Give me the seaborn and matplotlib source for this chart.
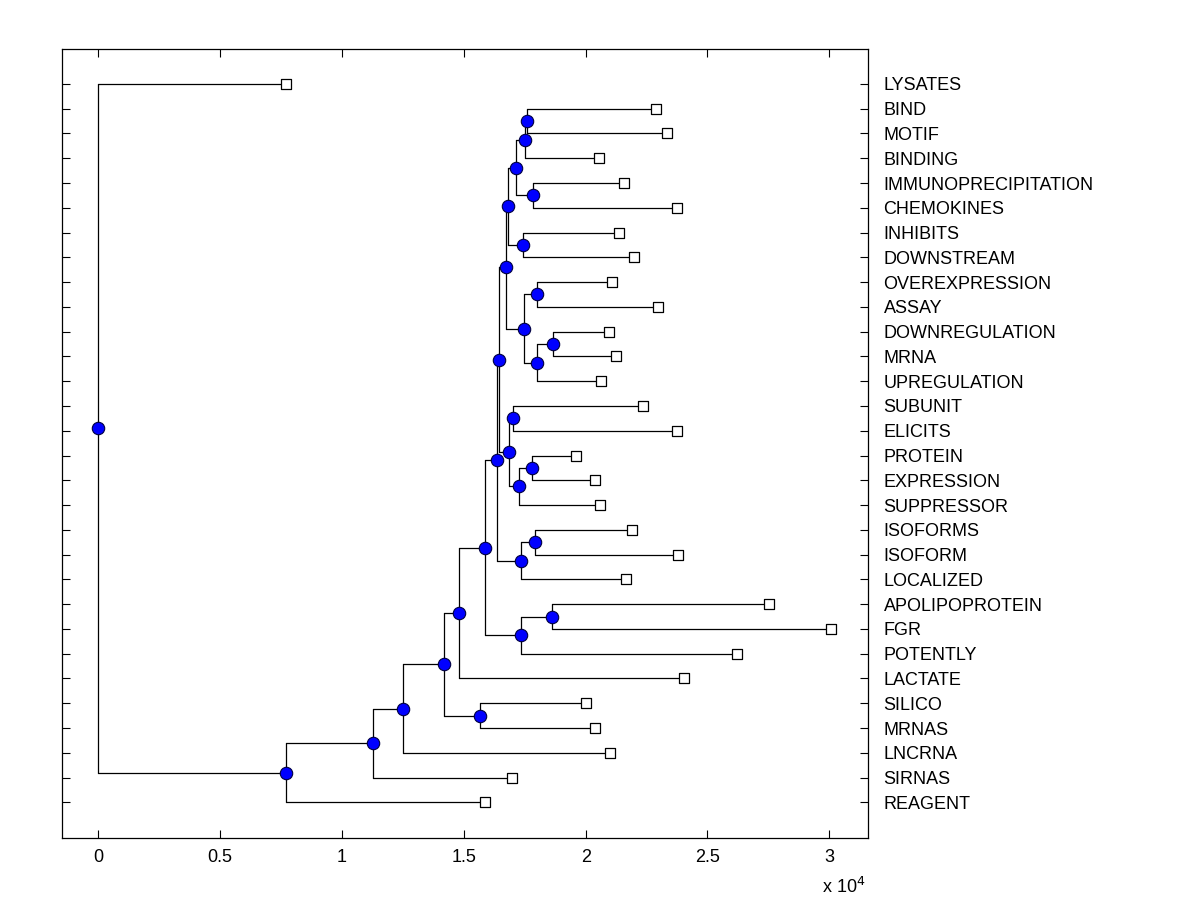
import numpy as np
import pandas as pd
import matplotlib
matplotlib.use("Agg")
from matplotlib import pyplot as plt
import seaborn as sns

# leaves, top to bottom, with their distance from the root
leaf_names = ['LYSATES', 'BIND', 'MOTIF', 'BINDING', 'IMMUNOPRECIPITATION', 'CHEMOKINES',
              'INHIBITS', 'DOWNSTREAM', 'OVEREXPRESSION', 'ASSAY', 'DOWNREGULATION', 'MRNA',
              'UPREGULATION', 'SUBUNIT', 'ELICITS', 'PROTEIN', 'EXPRESSION', 'SUPPRESSOR',
              'ISOFORMS', 'ISOFORM', 'LOCALIZED', 'APOLIPOPROTEIN', 'FGR', 'POTENTLY',
              'LACTATE', 'SILICO', 'MRNAS', 'LNCRNA', 'SIRNAS', 'REAGENT']
leaf_dist = [7700, 22880, 23330, 20540, 21570, 23740,
             21360, 21970, 21080, 22960, 20960, 21240,
             20630, 22350, 23740, 19600, 20380, 20590,
             21900, 23780, 21650, 27540, 30080, 26230,
             24020, 20000, 20370, 20980, 16970, 15860]

# internal nodes (children first, root last)
node_names = ['AB', 'AA', 'Z', 'Y', 'X', 'W', 'T', 'V', 'U', 'S', 'R', 'O', 'Q', 'P', 'N',
              'K', 'M', 'L', 'J', 'I', 'H', 'G', 'F', 'E', 'D', 'C', 'B', 'A', 'root']
node_left = ['BIND', 'AB', 'IMMUNOPRECIPITATION', 'AA', 'INHIBITS', 'Y', 'OVEREXPRESSION',
             'DOWNREGULATION', 'V', 'T', 'W', 'SUBUNIT', 'PROTEIN', 'Q', 'O',
             'R', 'ISOFORMS', 'M', 'K', 'APOLIPOPROTEIN', 'I', 'J', 'G', 'SILICO', 'F',
             'D', 'C', 'B', 'LYSATES']
node_right = ['MOTIF', 'BINDING', 'CHEMOKINES', 'Z', 'DOWNSTREAM', 'X', 'ASSAY',
              'MRNA', 'UPREGULATION', 'U', 'S', 'ELICITS', 'EXPRESSION', 'SUPPRESSOR', 'P',
              'N', 'ISOFORM', 'LOCALIZED', 'L', 'FGR', 'POTENTLY', 'H', 'LACTATE', 'MRNAS', 'E',
              'LNCRNA', 'SIRNAS', 'REAGENT', 'A']
node_dist = [17580, 17500, 17830, 17130, 17420, 16800, 17990,
             18650, 17990, 17460, 16720, 17010, 17790, 17250, 16840,
             16430, 17910, 17340, 16350, 18610, 17340, 15860, 14800, 15660, 14180,
             12500, 11270, 7700, 0]

xpos = {}
ypos = {}
for i, name in enumerate(leaf_names):
    xpos[name] = leaf_dist[i]
    ypos[name] = i + 1
for name, l, r, d in zip(node_names, node_left, node_right, node_dist):
    xpos[name] = d
    ypos[name] = (ypos[l] + ypos[r]) / 2.0

sns.set_style("white")
plt.rcParams['font.family'] = ['Liberation Sans', 'DejaVu Sans']
plt.rcParams['text.color'] = 'black'
plt.rcParams['xtick.color'] = 'black'
plt.rcParams['ytick.color'] = 'black'

fig = plt.figure(figsize=(12, 9), dpi=100)
ax = fig.add_axes([0.0519, 0.0686, 0.6717, 0.8767])

lw = 0.9
for name, l, r in zip(node_names, node_left, node_right):
    x0 = xpos[name]
    ax.plot([x0, x0], [ypos[l], ypos[r]], color='black', lw=lw, zorder=1)
    for c in (l, r):
        ax.plot([x0, xpos[c]], [ypos[c], ypos[c]], color='black', lw=lw, zorder=1)

leaves = pd.DataFrame({'x': [xpos[n] for n in leaf_names], 'y': [ypos[n] for n in leaf_names]})
nodes = pd.DataFrame({'x': [xpos[n] for n in node_names], 'y': [ypos[n] for n in node_names]})

sns.scatterplot(data=leaves, x='x', y='y', marker='s', s=55, color='white',
                edgecolor='black', linewidth=0.9, zorder=3, ax=ax)
sns.scatterplot(data=nodes, x='x', y='y', marker='o', s=80, color='#0000ff',
                edgecolor='#000040', linewidth=0.8, zorder=3, ax=ax)

ax.set_xlim(-1477, 31600)
ax.set_ylim(31.45, -0.40)
xt = [0, 5000, 10000, 15000, 20000, 25000, 30000]
ax.set_xticks(xt)
ax.set_xticklabels(['0', '0.5', '1', '1.5', '2', '2.5', '3'], fontsize=13, color='black')
ax.set_yticks(range(1, len(leaf_names) + 1))
ax.set_yticklabels(leaf_names, fontsize=13, color='black')
ax.yaxis.tick_right()
ax.tick_params(axis='both', direction='in', length=6, width=0.8, color='black',
               top=True, bottom=True, left=True, right=True,
               labelleft=False, labelright=True, labeltop=False, labelbottom=True)
ax.tick_params(axis='y', pad=11)
ax.tick_params(axis='x', pad=8)
ax.set_xlabel('')
ax.set_ylabel('')
for sp in ax.spines.values():
    sp.set_visible(True)
    sp.set_color('black')
    sp.set_linewidth(0.9)

ax.text(0.969, -0.062, r'x 10$^4$', transform=ax.transAxes, ha='center', va='center',
        fontsize=13, color='black')

plt.savefig('out.png', dpi=100)
